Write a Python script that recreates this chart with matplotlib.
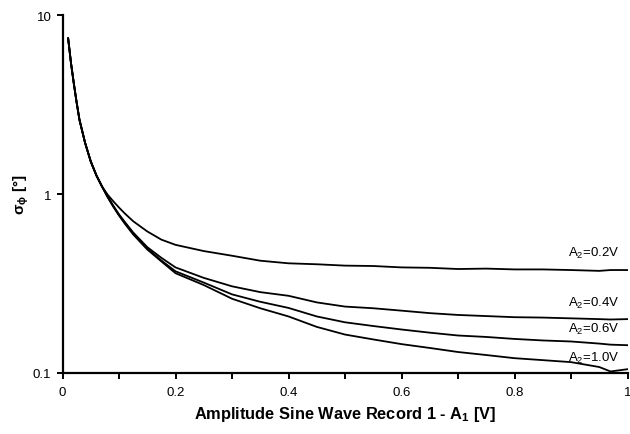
import matplotlib
matplotlib.use("Agg")
import matplotlib.pyplot as plt
from matplotlib.ticker import FixedLocator, MultipleLocator, NullLocator

plt.rcParams['font.family'] = ['Liberation Sans', 'DejaVu Sans']
plt.rcParams['mathtext.fontset'] = 'custom'
plt.rcParams['mathtext.rm'] = 'Liberation Sans'
plt.rcParams['mathtext.it'] = 'Liberation Sans:italic'
plt.rcParams['mathtext.bf'] = 'Liberation Sans:bold'

# shared initial section (all curves coincide)
x_common = [0.01, 0.015, 0.02, 0.025, 0.03, 0.04, 0.05, 0.06, 0.07]
y_common = [7.4, 5.4, 4.15, 3.25, 2.6, 1.93, 1.52, 1.27, 1.10]

# split section
x_split = [0.08, 0.09, 0.10, 0.11, 0.125, 0.15, 0.175, 0.2, 0.25, 0.3, 0.35, 0.4, 0.45, 0.5,
           0.55, 0.6, 0.65, 0.7, 0.75, 0.8, 0.85, 0.9, 0.95, 0.97, 1.0]
y_a02 = [0.99, 0.91, 0.84, 0.78, 0.705, 0.618, 0.556, 0.52, 0.48, 0.452, 0.424, 0.41, 0.405, 0.398,
         0.396, 0.389, 0.387, 0.381, 0.383, 0.379, 0.379, 0.376, 0.372, 0.376, 0.376]
y_a04 = [0.97, 0.86, 0.77, 0.70, 0.61, 0.505, 0.44, 0.389, 0.34, 0.305, 0.283, 0.27, 0.248, 0.235,
         0.23, 0.223, 0.216, 0.211, 0.208, 0.205, 0.204, 0.202, 0.200, 0.199, 0.200]
y_a06 = [0.96, 0.85, 0.76, 0.69, 0.60, 0.495, 0.425, 0.370, 0.32, 0.275, 0.250, 0.231, 0.207, 0.192,
         0.183, 0.175, 0.168, 0.162, 0.159, 0.155, 0.152, 0.150, 0.146, 0.144, 0.143]
y_a10 = [0.96, 0.85, 0.76, 0.685, 0.595, 0.49, 0.42, 0.361, 0.31, 0.26, 0.230, 0.207, 0.181, 0.164,
         0.154, 0.145, 0.138, 0.131, 0.126, 0.121, 0.118, 0.115, 0.108, 0.102, 0.105]

series = [("A$_2$=0.2V", y_a02), ("A$_2$=0.4V", y_a04),
          ("A$_2$=0.6V", y_a06), ("A$_2$=1.0V", y_a10)]
label_offsets = [12.5, 12.0, 11.5, 10.0]

fig = plt.figure(figsize=(6.3, 4.35), dpi=100)
ax = fig.add_axes([62.5/630, 1-374/435, 565/630, (374-16)/435])

for (lab, ys), off in zip(series, label_offsets):
    xs = x_common + x_split
    yv = y_common + ys
    ax.plot(xs, yv, color='black', lw=1.3, solid_joinstyle='round')
    ax.annotate(lab, xy=(0.985, ys[-2]), xytext=(0, off), textcoords='offset points',
                ha='right', va='center', fontsize=9.5)

ax.set_yscale('log')
ax.set_xlim(0, 1)
ax.set_ylim(0.1, 10)
ax.yaxis.set_major_locator(FixedLocator([0.1, 1, 10]))
ax.yaxis.set_minor_locator(NullLocator())
ax.set_yticklabels(['0.1', '1', '10'])
ax.xaxis.set_major_locator(FixedLocator([0, 0.2, 0.4, 0.6, 0.8, 1.0]))
ax.set_xticklabels(['0', '0.2', '0.4', '0.6', '0.8', '1'])
ax.xaxis.set_minor_locator(MultipleLocator(0.1))
ax.tick_params(axis='both', which='both', direction='out', length=4.5, width=1.4,
               labelsize=9.5, colors='black')
ax.tick_params(axis='x', which='major', pad=5)

for s in ['top', 'right']:
    ax.spines[s].set_visible(False)
for s in ['left', 'bottom']:
    ax.spines[s].set_linewidth(1.6)

ax.set_xlabel('Amplitude Sine Wave Record 1 - A$_\\mathbf{1}$ [V]', fontsize=11.8,
              fontweight='bold', labelpad=4)
ax.set_ylabel('$\\mathbf{\\sigma_\\phi}$ [°]', fontsize=11, fontweight='bold', labelpad=1)

fig.savefig('out.png', dpi=100)
